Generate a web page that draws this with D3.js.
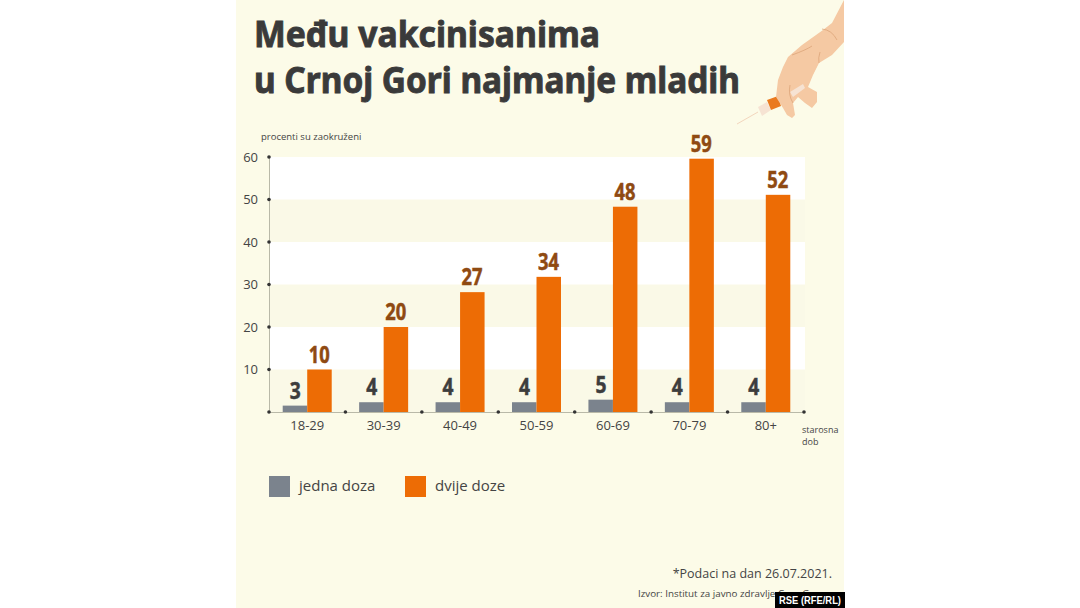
<!DOCTYPE html>
<html>

<head>
    <meta charset="utf-8">
    <script src="https://d3js.org/d3.v7.min.js"></script>
    <style>
        body {
            margin: 0;
            background: #fff;
        }

        svg {
            display: block;
        }

        text {
            font-family: "Open Sans", sans-serif;
        }

        .title {
            font-family: "Noto Sans", sans-serif;
            font-weight: 700;
            font-size: 36px;
            fill: #3a3a3a;
            stroke: #3a3a3a;
            stroke-width: 0.9px;
        }

        .val {
            font-family: "Noto Sans", sans-serif;
            font-weight: 700;
            font-size: 23px;
            text-anchor: middle;
            stroke-width: 0.5px;
        }
    </style>
</head>

<body>
    <div id="chart"></div>

    <script>
        var categories = ["18-29", "30-39", "40-49", "50-59", "60-69", "70-79", "80+"];
        // the bars in the picture are not drawn to the printed labels, so both are kept
        var jednaDoza = [1.5, 2.3, 2.3, 2.3, 2.9, 2.3, 2.3];
        var dvijeDoze = [10, 20, 28.2, 31.8, 48.3, 59.6, 51.1];
        var jednaLabels = ["3", "4", "4", "4", "5", "4", "4"];
        var dvijeLabels = ["10", "20", "27", "34", "48", "59", "52"];
        var yTicks = [10, 20, 30, 40, 50, 60];
        var stripes = [10, 30, 50];

        var svg = d3.select("#chart").append("svg")
            .attr("width", 1080)
            .attr("height", 608);

        // page panel
        svg.append("rect").attr("x", 236).attr("y", 0).attr("width", 608).attr("height", 608).attr("fill", "#fcfbe8");

        var x = d3.scaleBand().domain(categories).range([269, 804]);
        var y = d3.scaleLinear().domain([0, 60]).range([412, 157]);
        var barW = 24.5;
        var grey = "#7b838d", orange = "#ed6c05";

        // plot background, darker beige with white stripes
        svg.append("rect").attr("x", 269).attr("y", y(60)).attr("width", 536).attr("height", y(0) - y(60)).attr("fill", "#faf9e7");
        svg.selectAll(".stripe").data(stripes).enter().append("rect")
            .attr("class", "stripe")
            .attr("x", 269)
            .attr("y", function (d) { return y(d + 10); })
            .attr("width", 536)
            .attr("height", function (d) { return y(d) - y(d + 10); })
            .attr("fill", "#fff");

        // title
        svg.append("text").attr("class", "title").attr("x", 254).attr("y", 47)
            .attr("textLength", 346).attr("lengthAdjust", "spacingAndGlyphs").text("Među vakcinisanima");
        svg.append("text").attr("class", "title").attr("x", 254).attr("y", 93)
            .attr("textLength", 486).attr("lengthAdjust", "spacingAndGlyphs").text("u Crnoj Gori najmanje mladih");

        svg.append("text").attr("x", 261).attr("y", 140).attr("font-size", 9.5).attr("fill", "#444").text("procenti su zaokruženi");

        // bars
        svg.selectAll(".jedna").data(jednaDoza).enter().append("rect")
            .attr("class", "jedna")
            .attr("x", function (d, i) { return x(categories[i]) + x.bandwidth() / 2 - barW; })
            .attr("y", function (d) { return y(d); })
            .attr("width", barW)
            .attr("height", function (d) { return y(0) - y(d); })
            .attr("fill", grey);

        svg.selectAll(".dvije").data(dvijeDoze).enter().append("rect")
            .attr("class", "dvije")
            .attr("x", function (d, i) { return x(categories[i]) + x.bandwidth() / 2; })
            .attr("y", function (d) { return y(d); })
            .attr("width", barW)
            .attr("height", function (d) { return y(0) - y(d); })
            .attr("fill", orange);

        // value labels
        svg.selectAll(".lab1").data(jednaLabels).enter().append("text")
            .attr("class", "val lab1")
            .attr("x", function (d, i) { return x(categories[i]) + x.bandwidth() / 2 - 12; })
            .attr("y", function (d, i) { return y(jednaDoza[i]) - 7; })
            .attr("fill", "#3d3d3d")
            .attr("stroke", "#3d3d3d")
            .attr("textLength", 11)
            .attr("lengthAdjust", "spacingAndGlyphs")
            .text(function (d) { return d; });

        svg.selectAll(".lab2").data(dvijeLabels).enter().append("text")
            .attr("class", "val lab2")
            .attr("x", function (d, i) { return x(categories[i]) + x.bandwidth() / 2 + 12; })
            .attr("y", function (d, i) { return y(dvijeDoze[i]) - 7; })
            .attr("fill", "#8f4a12")
            .attr("stroke", "#8f4a12")
            .attr("textLength", 21)
            .attr("lengthAdjust", "spacingAndGlyphs")
            .text(function (d) { return d; });

        // axes
        var yAxis = d3.axisLeft(y).tickValues(yTicks).tickSize(0).tickPadding(11);
        var gy = svg.append("g").attr("transform", "translate(269,0)").call(yAxis);
        gy.select(".domain").attr("stroke", "#b9b9a8");
        gy.selectAll("text").attr("font-size", 13).attr("fill", "#444").style("font-family", "'Open Sans', sans-serif");

        var xAxis = d3.axisBottom(x).tickSize(0).tickPadding(9);
        var gx = svg.append("g").attr("transform", "translate(0,412)").call(xAxis);
        gx.select(".domain").attr("stroke", "#b9b9a8");
        gx.selectAll("text").attr("font-size", 13).attr("fill", "#444").style("font-family", "'Open Sans', sans-serif");

        // axis dots
        svg.selectAll(".ydot").data(yTicks).enter().append("circle")
            .attr("class", "ydot").attr("cx", 269).attr("cy", function (d) { return y(d); }).attr("r", 1.8).attr("fill", "#333");
        var xEdges = categories.map(function (c) { return x(c); }).concat([x.range()[1]]);
        svg.selectAll(".xdot").data(xEdges).enter().append("circle")
            .attr("class", "xdot").attr("cx", function (d) { return d; }).attr("cy", 412).attr("r", 1.8).attr("fill", "#333");

        svg.append("text").attr("x", 802).attr("y", 433).attr("font-size", 9).attr("fill", "#444").text("starosna");
        svg.append("text").attr("x", 802).attr("y", 445).attr("font-size", 9).attr("fill", "#444").text("dob");

        // legend
        svg.append("rect").attr("x", 269).attr("y", 476).attr("width", 21).attr("height", 21).attr("fill", grey);
        svg.append("text").attr("x", 299).attr("y", 491).attr("font-size", 15).attr("fill", "#444").text("jedna doza");
        svg.append("rect").attr("x", 405).attr("y", 476).attr("width", 21).attr("height", 21).attr("fill", orange);
        svg.append("text").attr("x", 435).attr("y", 491).attr("font-size", 15).attr("fill", "#444").text("dvije doze");

        // footer
        svg.append("text").attr("x", 832).attr("y", 578).attr("text-anchor", "end").attr("font-size", 12.5).attr("fill", "#444").text("*Podaci na dan 26.07.2021.");
        // the badge sits on top of the end of this line in the original too
        svg.append("text").attr("x", 638).attr("y", 597).attr("font-size", 9.8).attr("fill", "#444").text("Izvor: Institut za javno zdravlje Crne Gore");

        // hand with syringe
        var handOutline = [[844, 0], [832, 23], [823, 30], [802, 45], [788, 57], [783, 67], [778, 80], [776, 97], [783, 108], [787, 115],
            [792, 118], [795, 115], [793, 103], [798, 97], [805, 103], [812, 108], [817, 102], [817, 92], [808, 87], [813, 75], [819, 63], [832, 55], [844, 42]];
        svg.append("path").attr("d", "M737,124L758,112").attr("stroke", "#f3d6bd").attr("stroke-width", 1).attr("fill", "none");
        svg.append("path").attr("d", "M758,107L767,102L771,110L762,116Z").attr("fill", "#f6e3d3");
        svg.append("path").attr("d", "M767,100L778,96L781,106L771,110Z").attr("fill", "#ea7a1f");
        svg.append("path")
            .attr("d", d3.line().curve(d3.curveLinearClosed)(handOutline))
            .attr("fill", "#f5c9a3");
        svg.append("path").attr("d", "M790,92L803,84L805,88L793,97Z").attr("fill", "#f6e3d3");
        svg.append("path").attr("d", "M822,29Q832,30 837,40M792,55Q806,50 812,46M819,63Q818,58 820,52M793,103Q788,95 790,85").attr("stroke", "#d99f73").attr("stroke-width", 0.7).attr("fill", "none");

        // agency badge
        svg.append("rect").attr("x", 775).attr("y", 592).attr("width", 70).attr("height", 16).attr("fill", "#000");
        svg.append("text").attr("x", 779).attr("y", 604).attr("font-size", 10.5).attr("font-weight", 700)
            .attr("textLength", 62).attr("lengthAdjust", "spacingAndGlyphs")
            .attr("fill", "#fff").style("font-family", "'Liberation Sans', sans-serif").text("RSE (RFE/RL)");
    </script>
</body>

</html>
